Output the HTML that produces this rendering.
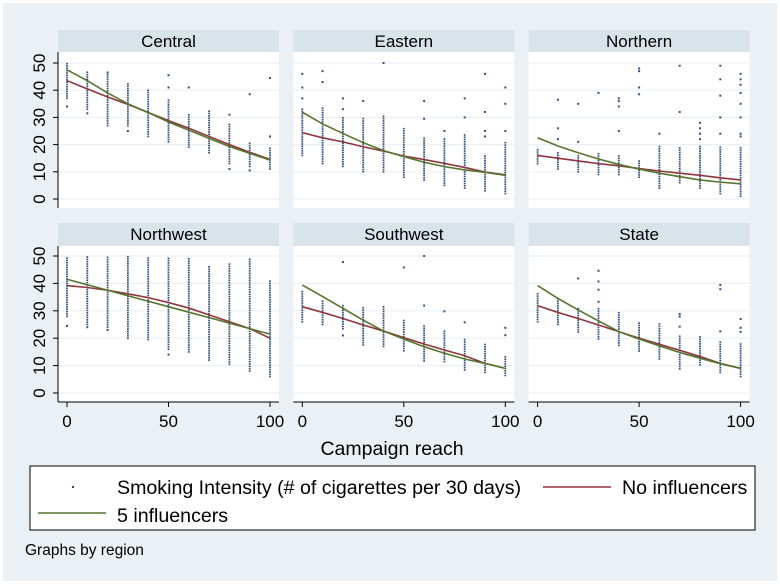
<!DOCTYPE html>
<html><head><meta charset="utf-8"><style>
html,body{margin:0;padding:0;background:#fff;}
svg{display:block;font-family:"Liberation Sans",Arial,sans-serif;}
</style></head><body>
<svg id="chart" width="780" height="584" viewBox="0 0 780 584" xmlns="http://www.w3.org/2000/svg">
<rect x="3" y="3" width="774" height="578" fill="#eaf0f3"/>
<g id="panels"></g>
<text x="392" y="455" font-size="19.5" text-anchor="middle" fill="#000">Campaign reach</text>
<g>
<rect x="30" y="466" width="725" height="64" fill="#fff" stroke="#000" stroke-width="1"/>
<rect x="72" y="486" width="2" height="2" fill="#2e4672"/>
<text x="117" y="494" font-size="19.6">Smoking Intensity (# of cigarettes per 30 days)</text>
<line x1="543" y1="487" x2="611" y2="487" stroke="#90353b" stroke-width="1.6"/>
<text x="622" y="494" font-size="19.6">No influencers</text>
<line x1="38" y1="513" x2="106" y2="513" stroke="#55752f" stroke-width="1.6"/>
<text x="117" y="522" font-size="19.6">5 influencers</text>
</g>
<text x="25" y="555" font-size="15.5">Graphs by region</text>
</svg>
<script>
const regions = ["Central","Eastern","Northern","Northwest","Southwest","State"];
const reach = [0,10,20,30,40,50,60,70,80,90,100];
const yTicks = [0,10,20,30,40,50];
const xTicks = [0,50,100];
const centralLo = [37,33,27,27,23,21,19,17,13,12,11];
const centralHi = [50,47,46,43,40,37,31,33,28,21,19];
const centralOut = [[0,34],[10,31.5],[20,46.5],[30,25],[50,45.5],[50,41],[60,41],[80,31],[80,11],[90,38.5],[90,10.5],[100,44.5],[100,23]];
const centralRed = [43.5,40.5,37.5,34.8,31.8,28.8,26,23,20,17.2,14.5];
const centralGreen = [47.5,43.5,39,35,31.8,28.3,25.3,22.3,19.3,16.8,14.3];
const easternLo = [16,13,12,10,10,8,7,5,4,3,2];
const easternHi = [33,34,30,30,31,26,23,22,24,16,21];
const easternOut = [[0,46],[0,41],[0,37],[10,47],[10,43],[20,37],[20,33],[30,36],[40,50],[60,36],[60,29.5],[70,25],[80,37],[80,30],[90,46],[90,32],[90,25],[90,23],[100,41],[100,35],[100,25]];
const easternRed = [24.4,22.5,21,19.2,17.6,15.8,14.5,13.1,11.6,9.9,8.9];
const easternGreen = [31.9,27.6,24.1,20.7,17.8,15.6,13.5,11.9,10.7,9.8,8.7];
const northernLo = [13,11,10,9,9,8,4,6,4,2,1];
const northernHi = [18.5,17.5,16.5,17,16,14.5,20,19,20,19,19];
const northernOut = [[10,36.5],[10,26],[10,22],[20,35],[20,21],[30,39],[40,37],[40,36],[40,34],[40,25],[50,48],[50,47],[50,41],[50,38.5],[60,24],[70,49],[70,32],[80,28],[80,26],[80,24],[80,22],[90,49],[90,44],[90,38],[90,30],[90,24],[100,46],[100,44],[100,42],[100,39],[100,35],[100,30],[100,24],[100,23]];
const northernRed = [16,15,14,13,12.2,11.2,10.3,9.5,8.7,7.8,7];
const northernGreen = [22.5,19.5,17,14.7,12.7,11,9.5,8.2,7,6.2,5.6];
const northwestLo = [28,25,24,20,19.5,16,15,12,10.5,8,6];
const northwestHi = [50,50,49.5,50,50,49.5,49,46.5,47.5,49.5,41];
const northwestOut = [[0,24.5],[10,24],[20,23],[50,14]];
const northwestRed = [39.2,38.5,37.5,36.2,34.8,33,31,28.5,26,23.5,20];
const northwestGreen = [41.5,39.5,37.5,35.5,33.5,31.5,29.5,27.5,25.5,23.5,21.5];
const southwestLo = [26,25,23.4,17.5,17,15.4,11.7,11.5,8.4,7.5,6.4];
const southwestHi = [37.5,34,32.5,31.3,32.2,26.6,24.5,22.6,19.7,18,13.9];
const southwestOut = [[20,21],[20,47.8],[50,45.8],[60,50],[60,31.9],[70,29.8],[80,25.8],[100,23.8],[100,21.1]];
const southwestRed = [31.5,29.4,27.2,24.8,22.6,20.2,17.9,15.7,13.6,10.8,9];
const southwestGreen = [39.4,35.2,30.9,26.6,22.6,19.7,16.9,14.5,12.4,10.8,9];
const stateLo = [26,25,22.3,19.7,17.4,15.3,12.4,8.8,10.3,7.5,6];
const stateHi = [37,34.5,31.5,31.3,30,26,25.8,21.5,20.6,19,18.4];
const stateOut = [[20,41.8],[30,44.6],[30,40.7],[30,37.7],[30,33.3],[70,28.8],[70,27.9],[70,24.2],[90,22.5],[90,39.4],[90,37.9],[100,27],[100,23.8],[100,22.3]];
const stateRed = [31.9,29.4,27.2,24.8,22.4,20,17.8,15.6,13.3,10.8,9];
const stateGreen = [39.2,34.5,30.3,26.3,22.4,19.7,17.2,14.8,12.7,10.7,9];

const los = [centralLo,easternLo,northernLo,northwestLo,southwestLo,stateLo];
const his = [centralHi,easternHi,northernHi,northwestHi,southwestHi,stateHi];
const outs = [centralOut,easternOut,northernOut,northwestOut,southwestOut,stateOut];
const reds = [centralRed,easternRed,northernRed,northwestRed,southwestRed,stateRed];
const greens = [centralGreen,easternGreen,northernGreen,northwestGreen,southwestGreen,stateGreen];

const NS = "http://www.w3.org/2000/svg";
const root = document.getElementById("panels");
function mk(tag, attrs, parent){
  const e = document.createElementNS(NS, tag);
  for (const k in attrs) e.setAttribute(k, attrs[k]);
  parent.appendChild(e);
  return e;
}
const rowsGeo = [{hTop:30,pTop:52,pBot:208,y0:199,y50:63},{hTop:223,pTop:246,pBot:402,y0:393,y50:256}];
regions.forEach((name, i) => {
  const col = i % 3, row = Math.floor(i / 3);
  const g = rowsGeo[row];
  const left = 58 + col * 235.3, w = 221;
  const xs = v => left + 9 + v * 2.03;
  const ys = v => g.y0 - v * (g.y0 - g.y50) / 50;
  const pg = mk("g", {}, root);
  
  
  const hdr = mk("rect", {x:left, y:g.hTop, width:w, height:g.pTop - g.hTop, fill:"#d9e4ea"}, pg);
  
  
  const ht = mk("text", {x:left + w/2, y:g.hTop + 17, "font-size":17, "text-anchor":"middle"}, pg);
  ht.textContent = name;
  
  
  const pb = mk("rect", {x:left, y:g.pTop, width:w, height:g.pBot - g.pTop, fill:"#fff"}, pg);
  
  
  yTicks.forEach(t => {
    const gl = mk("line", {x1:left, x2:left + w, y1:ys(t), y2:ys(t), stroke:"#eaf0f3", "stroke-width":1.2}, pg);
    
    
  });
  const dg = mk("g", {fill:"#34507e"}, pg);
  
  
  const lo = los[i], hi = his[i];
  reach.forEach((r, k) => {
    for (let v = lo[k]; v <= hi[k] + 0.01; v += 0.85) {
      const d = mk("rect", {x:xs(r) - 0.9, y:ys(v) - 0.8, width:1.8, height:1.6}, dg);
      
      
    }
  });
  outs[i].forEach(p => {
    const d = mk("rect", {x:xs(p[0]) - 1, y:ys(p[1]) - 1, width:2, height:2}, dg);
    
    
  });
  const rl = mk("polyline", {points: reach.map((r,k) => xs(r) + "," + ys(reds[i][k])).join(" "), fill:"none", stroke:"#90353b", "stroke-width":1.6}, pg);
  
  
  const gln = mk("polyline", {points: reach.map((r,k) => xs(r) + "," + ys(greens[i][k])).join(" "), fill:"none", stroke:"#55752f", "stroke-width":1.6}, pg);
  
  
  if (col === 0) {
    const ax = mk("line", {x1:left, x2:left, y1:g.pTop, y2:g.pBot, stroke:"#000", "stroke-width":1}, pg);
    
    
    yTicks.forEach(t => {
      const tk = mk("line", {x1:left - 5, x2:left, y1:ys(t), y2:ys(t), stroke:"#000"}, pg);
      
      
      const tl = mk("text", {x:0, y:0, "font-size":17, "text-anchor":"middle", transform:"translate(" + (left - 13) + "," + ys(t) + ") rotate(-90)"}, pg);
      tl.textContent = t;
      
      
    });
  }
  if (row === 1) {
    const ax = mk("line", {x1:left, x2:left + w, y1:g.pBot, y2:g.pBot, stroke:"#000", "stroke-width":1}, pg);
    
    
    xTicks.forEach(t => {
      const tk = mk("line", {x1:xs(t), x2:xs(t), y1:g.pBot, y2:g.pBot + 5, stroke:"#000"}, pg);
      
      
      const tl = mk("text", {x:xs(t), y:g.pBot + 25, "font-size":17, "text-anchor":"middle"}, pg);
      tl.textContent = t;
      
      
    });
  }
});
</script>
</body></html>
